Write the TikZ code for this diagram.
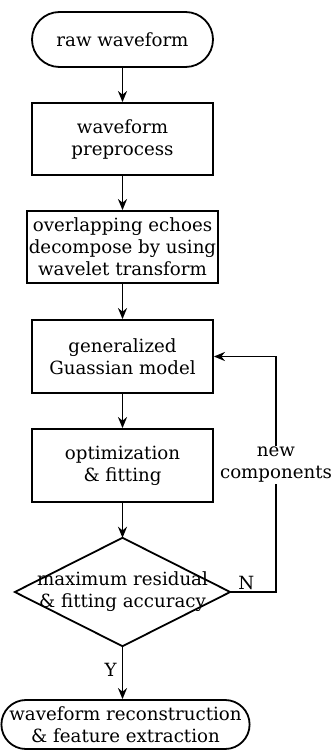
\documentclass[tikz,border=0pt]{standalone}
\usepackage{fontspec}
\setmainfont{DejaVu Serif}
\usetikzlibrary{arrows.meta,shapes.misc}
\tikzset{
  base/.style={draw, line width=1.8pt, inner sep=0pt, align=center, font=\fontsize{18.2}{22}\selectfont},
  procbox/.style={base, rectangle, minimum width=181pt, minimum height=72pt},
  termbox/.style={base, rounded rectangle},
  lbl/.style={inner sep=1pt, align=center, font=\fontsize{18.2}{22}\selectfont},
  conn/.style={line width=1.8pt, -{Stealth[length=11pt,width=9pt]}},
}
\begin{document}
\begin{tikzpicture}[x=1pt,y=-1pt]
\useasboundingbox (0,0) rectangle (335,751);
\node[termbox, minimum width=181pt, minimum height=55pt] (start) at (122.5,39.5) {raw waveform};
\node[procbox] (pre) at (122.5,139) {waveform\\preprocess};
\node[procbox, minimum width=191pt] (dec) at (122.5,247) {overlapping echoes\\decompose by using\\wavelet transform};
\node[procbox, minimum height=73pt] (gen) at (122.5,356.5) {generalized\\Guassian model};
\node[procbox, minimum height=73pt] (opt) at (122.5,465.5) {optimization\\\& fitting};
\node[inner sep=0pt, minimum width=215pt, minimum height=108pt] (dia) at (122.5,592) {};
\draw[line width=1.8pt] (dia.north) -- (dia.east) -- (dia.south) -- (dia.west) -- cycle;
\node[lbl] (diatext) at (dia.center) {maximum residual\\\& fitting accuracy};
\node[termbox, minimum width=245pt, minimum height=49pt] (end) at (125.5,724.5) {waveform reconstruction\\\& feature extraction};
\coordinate (c1) at (276,592);
\coordinate (c2) at (276,356.5);
\draw[conn] (start.south) -- (pre.north);
\draw[conn] (pre.south) -- (dec.north);
\draw[conn] (dec.south) -- (gen.north);
\draw[conn] (gen.south) -- (opt.north);
\draw[conn] (opt.south) -- (dia.north);
\draw[conn] (dia.south) -- node[lbl, left=4pt, pos=0.45] (ylab) {Y} (dia.south |- end.north);
\draw[conn] (dia.east) -- node[lbl, above, pos=0.35] (nlab) {N} (c1) -- node[lbl, fill=white, pos=0.54] (nc) {new\\components} (c2) -- (gen.east);
\end{tikzpicture}
\end{document}
